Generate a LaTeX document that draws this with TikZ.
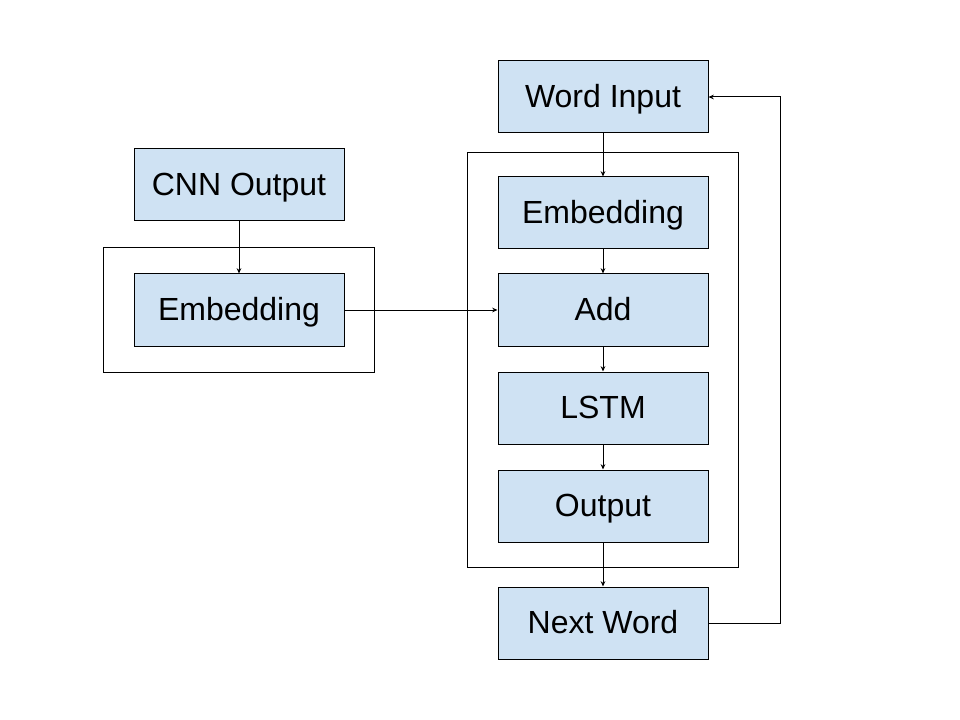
\documentclass[tikz,border=0pt]{standalone}
\usepackage{fontspec}
\setmainfont{Liberation Sans}
\usetikzlibrary{arrows.meta}
\definecolor{boxfill}{HTML}{CFE2F3}
\tikzset{
  blk/.style={draw=black, fill=boxfill, line width=0.75pt, minimum width=157.5pt, minimum height=54pt, inner sep=0pt, text height=20.6pt, text depth=5.1pt, font=\fontsize{24}{28}\selectfont},
  frame/.style={draw=black, line width=0.75pt},
  conn/.style={draw=black, line width=0.75pt, -{Stealth[length=4pt,width=3.5pt]}}
}
\begin{document}
\begin{tikzpicture}[x=0.75pt,y=-0.75pt]
\useasboundingbox (0,0) rectangle (960,720);
\draw[frame] (103,248) rectangle (374,372);
\draw[frame] (467,153) rectangle (738,567);
\node[blk] (wi) at (603,97) {Word Input};
\node[blk] (emb) at (603,213) {Embedding};
\node[blk] (add) at (603,310) {Add};
\node[blk] (lstm) at (603,408) {LSTM};
\node[blk] (out) at (603,506) {Output};
\node[blk] (nw) at (603,623) {Next Word};
\node[blk] (cnn) at (239,185) {CNN Output};
\node[blk] (emb2) at (239,310) {Embedding};
\draw[conn] (wi) -- (emb);
\draw[conn] (emb) -- (add);
\draw[conn] (add) -- (lstm);
\draw[conn] (lstm) -- (out);
\draw[conn] (out) -- (nw);
\draw[conn] (cnn) -- (emb2);
\draw[conn] (emb2) -- (add);
\coordinate (fb) at (780,0);
\draw[conn] (nw.east) -- (nw.east -| fb) -- (wi.east -| fb) -- (wi.east);
\end{tikzpicture}
\end{document}
